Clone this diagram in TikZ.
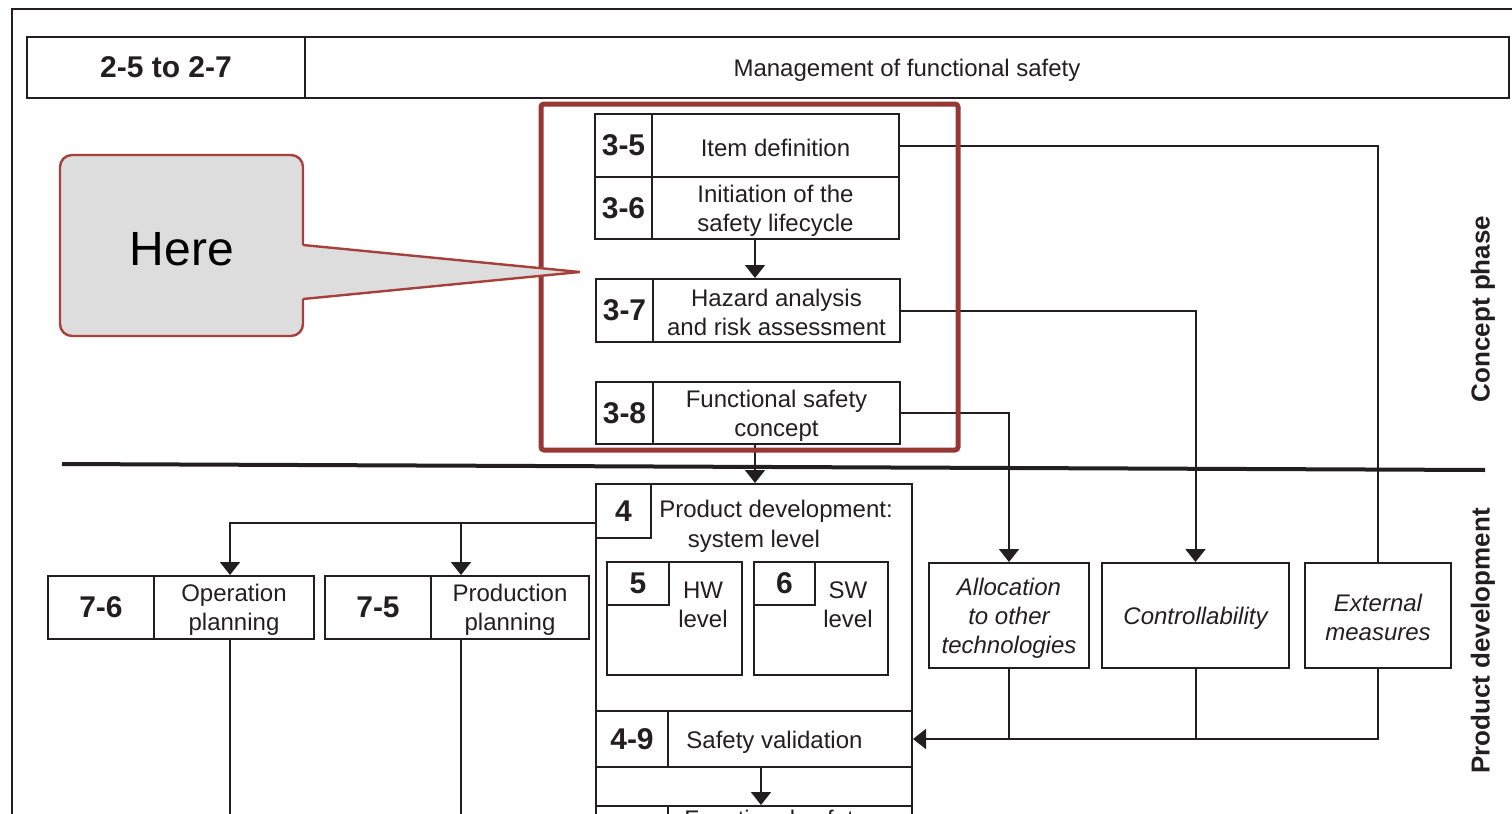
\documentclass[tikz,border=0pt]{standalone}
\usepackage{fontspec}
\setmainfont{Liberation Sans}
\usetikzlibrary{arrows.meta,fit}

\definecolor{ink}{HTML}{231F20}
\definecolor{callred}{HTML}{A5403C}
\definecolor{focusred}{HTML}{953735}
\definecolor{callfill}{HTML}{DDDDDD}

\tikzset{
  box/.style={draw=ink, line width=1pt, inner sep=0pt},
  conn/.style={draw=ink, line width=1pt},
  arr/.style={conn, -{Triangle[width=10pt,length=6.5pt]}},
  txt/.style={text=ink, font=\fontsize{12}{14.5}\selectfont, align=center, inner sep=0pt, yshift=-1.2pt},
  itx/.style={txt, font=\itshape\fontsize{12}{14.5}\selectfont},
  num/.style={text=ink, font=\bfseries\fontsize{15}{18}\selectfont, inner sep=0pt},
  phase/.style={text=ink, font=\bfseries\fontsize{13}{15}\selectfont, inner sep=0pt, rotate=90},
}

\begin{document}
\begin{tikzpicture}[x=0.5pt,y=-0.5pt]
\useasboundingbox (0,0) rectangle (1512,814);
\clip (0,0) rectangle (1512,814);

% outer frame
\draw[ink, line width=1.3pt] (1512,9) -- (12,9) -- (12,830);

% header row
\node[box, fit={(27,37) (305,98)}] (hdrL) {};
\node[box, fit={(305,37) (1509,98)}] (hdrR) {};
\node[num] (hdrLt) at (hdrL.center) {2-5 to 2-7};
\node[txt] (hdrRt) at (hdrR.center) {Management of functional safety};

% phase separator
\draw[ink, line width=2pt] (62,464) -- (1485,470);

% concept phase boxes
\node[box, fit={(595,114) (652,177)}] (n35) {};
\node[box, fit={(652,114) (899,177)}] (b35) {};
\node[num] at (n35.center) {3-5};
\node[txt] at (b35.center) {Item definition};

\node[box, fit={(595,177) (652,239)}] (n36) {};
\node[box, fit={(652,177) (899,239)}] (b36) {};
\node[num] at (n36.center) {3-6};
\node[txt] at (b36.center) {Initiation of the\\safety lifecycle};

\node[box, fit={(596,279) (653,342)}] (n37) {};
\node[box, fit={(653,279) (900,342)}] (b37) {};
\node[num] at (n37.center) {3-7};
\node[txt] at (b37.center) {Hazard analysis\\and risk assessment};

\node[box, fit={(596,382) (653,444)}] (n38) {};
\node[box, fit={(653,382) (900,444)}] (b38) {};
\node[num] at (n38.center) {3-8};
\node[txt] at (b38.center) {Functional safety\\concept};

% product development: system level
\node[box, fit={(596,484) (912,840)}] (b4) {};
\node[box, fit={(596,484) (651,538)}] (n4) {};
\node[num] at (n4.center) {4};
\node[txt] (t4a) at (776,509) {Product development:};
\node[txt] (t4b) at (754,539) {system level};

\node[box, fit={(607,562) (742,675)}] (b5) {};
\node[box, fit={(607,562) (669,605)}] (n5) {};
\node[num] at (n5.center) {5};
\node[txt] (t5) at (703,602) {HW\\level};

\node[box, fit={(754,562) (888,675)}] (b6) {};
\node[box, fit={(754,562) (815,605)}] (n6) {};
\node[num] at (n6.center) {6};
\node[txt] (t6) at (848,602) {SW\\level};

\node[box, fit={(596,711) (668,767)}] (n49) {};
\node[box, fit={(668,711) (912,767)}] (b49) {};
\node[num] at (n49.center) {4-9};
\node[txt, anchor=west] (t49) at (686,740) {Safety validation};

\node[box, fit={(596,806) (668,860)}] (n4x) {};
\node[box, fit={(668,806) (912,860)}] (b4x) {};
\node[txt, anchor=base west, yshift=1.2pt] (t4x) at (684,827) {Functional safety};

% production and operation planning
\node[box, fit={(48,576) (154,639)}] (n76) {};
\node[box, fit={(154,576) (314,639)}] (b76) {};
\node[num] at (n76.center) {7-6};
\node[txt] at (b76.center) {Operation\\planning};

\node[box, fit={(325,576) (431,639)}] (n75) {};
\node[box, fit={(431,576) (589,639)}] (b75) {};
\node[num] at (n75.center) {7-5};
\node[txt] at (b75.center) {Production\\planning};

% other technologies, controllability, external measures
\node[box, fit={(929,563) (1089,668)}] (alloc) {};
\node[itx] at (alloc.center) {Allocation\\to other\\technologies};
\node[box, fit={(1102,563) (1289,668)}] (ctrl) {};
\node[itx] at (ctrl.center) {Controllability};
\node[box, fit={(1305,563) (1451,668)}] (ext) {};
\node[itx] at (ext.center) {External\\measures};

% phase labels
\node[phase] (cphase) at (1483,309) {Concept phase};
\node[phase] (pphase) at (1483,641) {Product development};

% routing coordinates
\coordinate (colA) at (755,0);
\coordinate (colB) at (761,0);
\coordinate (c76) at (230,0);
\coordinate (c75) at (461,0);
\coordinate (rowL) at (0,523);
\coordinate (rowV) at (0,739);
\coordinate (bot) at (0,830);
\coordinate (split) at (461,523);

% connectors
\draw[arr] (b36.south -| colA) -- (b37.north -| colA);
\draw[arr] (b38.south -| colA) -- (b4.north -| colA);
\draw[arr] (b49.south -| colB) -- (b4x.north -| colB);

\draw[arr] (b4.west |- rowL) -| (b76.north -| c76);
\draw[arr] (split) -- (b75.north -| c75);
\draw[conn] (b76.south -| c76) -- (bot -| c76);
\draw[conn] (b75.south -| c75) -- (bot -| c75);

\draw[conn] (b35.east) -| (ext.north);
\draw[arr] (b37.east) -| (ctrl.north);
\draw[arr] (b38.east) -| (alloc.north);

\draw[arr] (ext.south) |- (b4.east |- rowV);
\draw[conn] (alloc.south) -- (alloc.south |- rowV);
\draw[conn] (ctrl.south) -- (ctrl.south |- rowV);

% highlight frame
\node[draw=focusred, line width=2.5pt, rounded corners=1.5pt, inner sep=0pt,
      fit={(541,104) (958,450)}] (focus) {};

% callout
\node[draw=callred, fill=callfill, line width=1.2pt, rounded corners=6pt,
      inner sep=0pt, fit={(60,155) (303,336)}] (callout) {};
\coordinate (tip) at (580,272);
\coordinate (pA) at (303,245);
\coordinate (pB) at (303,299);
\fill[callfill] ([xshift=-1.5pt]pA) -- (tip) -- ([xshift=-1.5pt]pB) -- cycle;
\draw[callred, line width=1.2pt, line join=miter] (pA) -- (tip) -- (pB);
\node[text=black, font=\fontsize{24}{28}\selectfont, inner sep=0pt] (here) at (182,249) {Here};

\end{tikzpicture}
\end{document}
